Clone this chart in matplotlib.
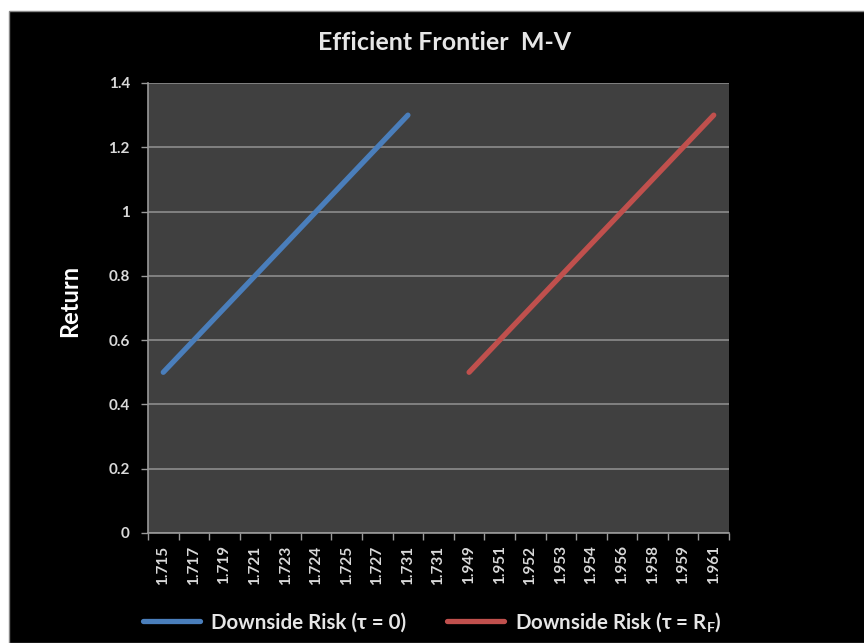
import matplotlib.pyplot as plt
import matplotlib.patches as mpatches
import numpy as np

# x categories (Excel category axis)
x_labels = ['1.715', '1.717', '1.719', '1.721', '1.723', '1.724', '1.725', '1.727', '1.731',
            '1.731', '1.949', '1.951', '1.952', '1.953', '1.954', '1.956', '1.958', '1.959', '1.961']
# series values, None where the series has no point
risk_tau0 = [0.5, 0.6, 0.7, 0.8, 0.9, 1.0, 1.1, 1.2, 1.3,
             None, None, None, None, None, None, None, None, None, None]
risk_tau_rf = [None, None, None, None, None, None, None, None, None,
               None, 0.5, 0.6, 0.7, 0.8, 0.9, 1.0, 1.1, 1.2, 1.3]

fam = ['Lato', 'DejaVu Sans']
plt.rcParams['font.family'] = fam
plt.rcParams['mathtext.default'] = 'regular'

fig = plt.figure(figsize=(8.64, 6.43), dpi=100, facecolor='white')
# black chart area with a thin grey top edge
fig.patches.append(mpatches.Rectangle((9 / 864, 0), 1, 1 - 11 / 643, transform=fig.transFigure,
                                      facecolor='black', edgecolor='#888888', linewidth=1, zorder=-10))

ax = fig.add_axes([148 / 864, 110 / 643, 581 / 864, 450 / 643])
ax.set_zorder(5)
ax.set_facecolor('#404040')

xs = np.arange(len(x_labels))
y1 = np.array([np.nan if v is None else v for v in risk_tau0])
y2 = np.array([np.nan if v is None else v for v in risk_tau_rf])
ax.plot(xs, y1, color='#4a7ebb', lw=3.8, solid_capstyle='round', label='Downside Risk (τ = 0)')
ax.plot(xs, y2, color='#c0504d', lw=3.8, solid_capstyle='round', label='Downside Risk (τ = R$_F$)')

ax.set_xlim(-0.5, len(x_labels) - 0.5)
ax.set_ylim(0, 1.4)
ax.set_yticks(np.arange(0, 1.41, 0.2))
ax.set_yticklabels(['0', '0.2', '0.4', '0.6', '0.8', '1', '1.2', '1.4'])
ax.set_xticks(xs)
ax.set_xticklabels(x_labels, rotation=90)
ax.set_xticks(np.arange(-0.5, len(x_labels), 1), minor=True)
ax.tick_params(axis='x', which='major', length=0, pad=9, labelsize=11)
ax.tick_params(axis='x', which='minor', length=5, width=1, color='#999999', direction='out')
ax.tick_params(axis='y', length=5, width=1, color='#999999', labelsize=11, pad=8)
for lbl in ax.get_xticklabels() + ax.get_yticklabels():
    lbl.set_fontweight('bold')
    lbl.set_color('#d9d9d9')

ax.grid(axis='y', color='#8c8c8c', lw=1.2)
ax.set_axisbelow(True)
for s in ['top', 'right']:
    ax.spines[s].set_visible(False)
ax.spines['left'].set_color('#999999')
ax.spines['bottom'].set_color('#999999')
ax.spines['left'].set_linewidth(1.2)
ax.spines['bottom'].set_linewidth(1.2)

ax.set_ylabel('Return', color='white', fontsize=17, fontweight='bold')
ax.yaxis.set_label_coords(-0.115, 0.515)
fig.text(445 / 864, 1 - 42 / 643, 'Efficient Frontier  M-V', color='#e6e6e6', fontsize=18,
         fontweight='bold', ha='center', va='center')

leg = fig.legend(loc='center', bbox_to_anchor=(432 / 864, 1 - 622 / 643), ncol=2, frameon=False,
                 handlelength=2.8, columnspacing=2.0, handletextpad=0.5,
                 prop={'family': fam, 'weight': 'bold', 'size': 14.8})
for t in leg.get_texts():
    t.set_color('#e6e6e6')

fig.savefig('out.png', dpi=100, facecolor=fig.get_facecolor())
